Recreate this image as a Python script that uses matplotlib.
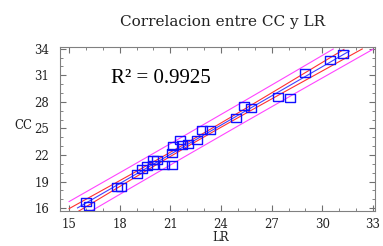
import numpy as np
import matplotlib
matplotlib.use("Agg")
import matplotlib.pyplot as plt
from matplotlib.ticker import MultipleLocator

# datos
lr = [16.0, 16.2, 17.85, 18.05, 19.0, 19.3, 19.6, 19.95, 20.2, 19.95,
      20.6, 21.1, 21.1, 21.15, 21.6, 21.7, 22.05, 22.6, 22.85, 23.35,
      24.9, 25.35, 25.8, 27.35, 28.1, 29.0, 30.45, 31.25]
cc = [16.7, 16.2, 18.4, 18.4, 19.85, 20.4, 20.75, 21.4, 21.4, 20.9,
      20.9, 20.9, 22.25, 23.0, 23.7, 23.1, 23.2, 23.7, 24.85, 24.85,
      26.2, 27.5, 27.3, 28.5, 28.4, 31.25, 32.75, 33.45]
r2_text = "R² = 0.9925"
x_ticks = [15, 18, 21, 24, 27, 30, 33]
y_ticks = [16, 19, 22, 25, 28, 31, 34]

x = np.array(lr)
y = np.array(cc)
n = len(x)
b, a = np.polyfit(x, y, 1)
res = y - (a + b * x)
s = np.sqrt(np.sum(res ** 2) / (n - 2))
sxx = np.sum((x - x.mean()) ** 2)
t = 2.056

xl = np.linspace(15.5, 31.6, 50)
xb = np.linspace(15, 33, 200)
yb = a + b * xb
conf = t * s * np.sqrt(1 / n + (xb - x.mean()) ** 2 / sxx)
pred = t * s * np.sqrt(1 + 1 / n + (xb - x.mean()) ** 2 / sxx)

def cut(v):
    v = v.copy()
    v[v > 34] = np.nan
    return v

fig = plt.figure(figsize=(3.83, 2.46), dpi=100)
ax = fig.add_axes([0.157, 0.142, 0.822, 0.667])

ax.plot(xb, cut(yb + pred), color="#ff44ff", lw=0.8)
ax.plot(xb, cut(yb - pred), color="#ff44ff", lw=0.8)
ax.plot(xb, cut(yb + conf), color="#ff3030", lw=0.8)
ax.plot(xb, cut(yb - conf), color="#ff3030", lw=0.8)
ax.plot(xl, a + b * xl, color="#4040ff", lw=0.8)

rect = [(-1, -0.7), (1, -0.7), (1, 0.7), (-1, 0.7), (-1, -0.7)]
ax.plot(x, y, ls="none", marker=rect, ms=7.5, mfc="none", mec="#1010ff", mew=1.0)

ax.set_xlim(14.47, 33.12)
ax.set_ylim(15.66, 34.2)
ax.set_xticks(x_ticks)
ax.set_yticks(y_ticks)
ax.xaxis.set_minor_locator(MultipleLocator(1))
ax.yaxis.set_minor_locator(MultipleLocator(1))
ax.tick_params(which="both", direction="in", top=True, right=True, color="#707070")
ax.tick_params(which="major", length=4)
ax.tick_params(which="minor", length=2.5)
ax.tick_params(axis="x", pad=5)
ax.tick_params(axis="y", pad=8)
for lab in ax.get_xticklabels() + ax.get_yticklabels():
    lab.set_family("DejaVu Serif")
    lab.set_fontsize(8.5)
    lab.set_color("#222222")
for sp in ax.spines.values():
    sp.set_color("#808080")

ax.text(17.5, 30.6, r2_text, family="Liberation Serif", fontsize=15, va="center")
fig.text(0.58, 0.91, "Correlacion entre CC y LR", family="DejaVu Serif",
         fontsize=11, ha="center", va="center", color="#222222")
fig.text(0.062, 0.49, "CC", family="DejaVu Serif", fontsize=8.5, ha="center", va="center", color="#222222")
fig.text(0.575, 0.035, "LR", family="DejaVu Serif", fontsize=8.5, ha="center", va="center", color="#222222")

fig.savefig("out.png", dpi=100)
